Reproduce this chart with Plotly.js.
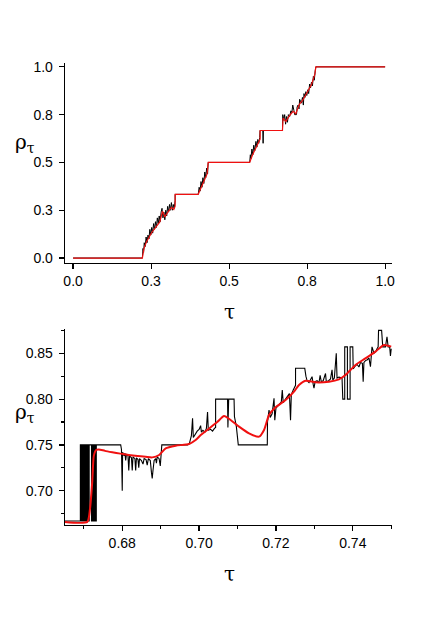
<!DOCTYPE html>
<html>
<head>
<meta charset="utf-8">
<script src="https://cdn.plot.ly/plotly-3.0.1.min.js"></script>
<style>
  html, body { margin: 0; padding: 0; background: #fff; }
  #chart { width: 437px; height: 625px; }
</style>
</head>
<body>
<div id="chart"></div>
<script>
// Two panels: full staircase rho(tau) on top, zoom of 0.665-0.75 below.
// Black = raw curve, red = smoothed curve.

// ---- top panel ----
const topRedTau = [0, 0.222, 0.227, 0.235, 0.251, 0.267, 0.278, 0.2865, 0.294, 0.3045, 0.3154, 0.3228, 0.327, 0.327,
  0.401, 0.4115, 0.422, 0.4295, 0.433, 0.566, 0.575, 0.5856, 0.596, 0.5994, 0.5994, 0.671, 0.673, 0.6817, 0.692,
  0.705, 0.7138, 0.7244, 0.737, 0.75, 0.764, 0.7747, 0.778, 1.0];
const topRedRho = [0, 0, 0.049, 0.084, 0.131, 0.163, 0.189, 0.245, 0.215, 0.242, 0.265, 0.254, 0.271, 0.333,
  0.333, 0.373, 0.417, 0.44, 0.5, 0.5, 0.539, 0.574, 0.609, 0.622, 0.667, 0.667, 0.732, 0.714, 0.741,
  0.767, 0.755, 0.802, 0.828, 0.863, 0.907, 0.96, 1.0, 1.0];

const topBlackTau = [0, 0.222, 0.224, 0.226, 0.228, 0.231, 0.234, 0.237, 0.240, 0.243, 0.246, 0.249, 0.252, 0.255,
  0.258, 0.261, 0.264, 0.267, 0.270, 0.273, 0.276, 0.279, 0.282, 0.285, 0.288, 0.291, 0.294, 0.297, 0.300, 0.303,
  0.306, 0.309, 0.312, 0.315, 0.318, 0.321, 0.324, 0.327, 0.327, 0.401, 0.404, 0.407, 0.410, 0.413, 0.416, 0.419,
  0.422, 0.425, 0.428, 0.431, 0.433, 0.566, 0.568, 0.570, 0.573, 0.576, 0.579, 0.582, 0.586, 0.589, 0.592, 0.595,
  0.598, 0.599, 0.608, 0.609, 0.610, 0.671, 0.672, 0.675, 0.678, 0.681, 0.684, 0.687, 0.690, 0.694, 0.698, 0.701,
  0.704, 0.708, 0.710, 0.716, 0.718, 0.721, 0.724, 0.726, 0.729, 0.732, 0.735, 0.738, 0.740, 0.743, 0.746, 0.749,
  0.752, 0.755, 0.758, 0.761, 0.764, 0.767, 0.770, 0.773, 0.776, 0.778, 1.0];
const topBlackRho = [0, 0, 0.05, 0.03, 0.08, 0.06, 0.11, 0.08, 0.12, 0.10, 0.15, 0.12, 0.16, 0.13,
  0.18, 0.15, 0.19, 0.16, 0.21, 0.18, 0.22, 0.19, 0.24, 0.26, 0.21, 0.24, 0.20, 0.25, 0.22, 0.27,
  0.24, 0.28, 0.25, 0.29, 0.25, 0.28, 0.26, 0.30, 0.333, 0.333, 0.37, 0.35, 0.40, 0.37, 0.42, 0.39,
  0.45, 0.42, 0.47, 0.44, 0.5, 0.5, 0.54, 0.52, 0.57, 0.54, 0.59, 0.56, 0.61, 0.58, 0.62, 0.60,
  0.63, 0.667, 0.667, 0.60, 0.667, 0.667, 0.75, 0.72, 0.75, 0.70, 0.74, 0.71, 0.75, 0.74, 0.77, 0.76,
  0.80, 0.77, 0.75, 0.75, 0.79, 0.80, 0.78, 0.83, 0.82, 0.81, 0.84, 0.80, 0.86, 0.84, 0.87, 0.85,
  0.88, 0.86, 0.91, 0.89, 0.92, 0.90, 0.95, 0.93, 0.98, 1.0, 1.0];

const topTickVals = [0, 0.25, 0.5, 0.75, 1.0];
const topTickText = ['0.0', '0.3', '0.5', '0.8', '1.0'];

// ---- bottom (zoomed) panel ----
const zoomRedTau = [0.665, 0.6709, 0.6716, 0.6722, 0.6726, 0.6732, 0.6739, 0.6755, 0.6774, 0.6795, 0.6817, 0.684,
  0.6861, 0.6878, 0.6896, 0.6913, 0.6939, 0.6974, 0.6991, 0.7005, 0.7026, 0.7048, 0.7065, 0.7082, 0.7104, 0.713,
  0.7156, 0.7169, 0.7182, 0.7199, 0.7225, 0.7247, 0.726, 0.7277, 0.7303, 0.7338, 0.7364, 0.7381, 0.7407, 0.7433,
  0.7459, 0.7481, 0.75];
const zoomRedRho = [0.666, 0.666, 0.68, 0.71, 0.738, 0.7445, 0.7451, 0.7435, 0.742, 0.7405, 0.739, 0.7378,
  0.737, 0.7364, 0.739, 0.7462, 0.7491, 0.751, 0.7553, 0.761, 0.768, 0.7753, 0.7815, 0.7772, 0.7699, 0.7626,
  0.759, 0.7663, 0.7826, 0.791, 0.799, 0.8081, 0.8154, 0.8201, 0.8183, 0.819, 0.8216, 0.8263, 0.8373, 0.8445,
  0.8518, 0.8591, 0.8573];

const zoomBlackTau = [0.665, 0.6691,
  0.6691, 0.66935, 0.66935, 0.6696, 0.6696, 0.66985, 0.66985, 0.6701, 0.6701, 0.67035, 0.67035, 0.6706, 0.6706,
  0.67085, 0.67085, 0.6711, 0.6711, 0.67135, 0.67135, 0.6714, 0.6714,
  0.672, 0.672, 0.67225, 0.67225, 0.6725, 0.6725, 0.67275, 0.67275, 0.673, 0.673, 0.67325, 0.67325,
  0.6796, 0.6798, 0.68, 0.6801, 0.6805, 0.6807, 0.6809, 0.6811, 0.6815, 0.6817, 0.6819, 0.6824, 0.6826, 0.6828,
  0.6833, 0.6835, 0.6837, 0.6841, 0.6843, 0.6845, 0.685, 0.6854, 0.6857, 0.6862, 0.6865, 0.6868, 0.6873, 0.6876,
  0.6878, 0.688, 0.6883, 0.6887, 0.6889, 0.6891, 0.6896, 0.6899, 0.6901, 0.6903, 0.697,
  0.6975, 0.698, 0.6983, 0.6985, 0.699, 0.6995, 0.7, 0.7004, 0.7006, 0.701, 0.7015, 0.7019, 0.7022, 0.7024,
  0.703, 0.7035, 0.704, 0.7043, 0.7043, 0.7074, 0.7075, 0.7077, 0.7091, 0.7092, 0.7097, 0.7102, 0.71775,
  0.7178, 0.7182, 0.7185, 0.719, 0.7195, 0.7197, 0.72, 0.7204, 0.721, 0.7214, 0.72165, 0.7219, 0.7225, 0.723,
  0.7235, 0.7238, 0.724, 0.7245, 0.7251, 0.7251, 0.7275, 0.7278, 0.7281, 0.7286, 0.729, 0.7294, 0.7297, 0.7299,
  0.7302, 0.7307, 0.7312, 0.7315, 0.7318, 0.7323, 0.7329, 0.7331, 0.7337, 0.7342, 0.7346, 0.7348, 0.7352,
  0.7357, 0.7359, 0.7364, 0.7372, 0.7374, 0.7379, 0.7379, 0.7386, 0.7386, 0.7393, 0.7393, 0.74, 0.7401,
  0.7406, 0.7411, 0.7416, 0.742, 0.7425, 0.7427, 0.7429, 0.7433, 0.7438, 0.7442, 0.7446, 0.7448, 0.745,
  0.7455, 0.746, 0.7463, 0.7466, 0.7467, 0.7475, 0.7478, 0.7485, 0.7489, 0.7492, 0.7496, 0.7498, 0.75];
const zoomBlackRho = [0.667, 0.667,
  0.75, 0.75, 0.667, 0.667, 0.75, 0.75, 0.667, 0.667, 0.75, 0.75, 0.667, 0.667, 0.75,
  0.75, 0.667, 0.667, 0.75, 0.75, 0.667, 0.667, 0.75,
  0.75, 0.667, 0.667, 0.75, 0.75, 0.667, 0.667, 0.75, 0.75, 0.667, 0.667, 0.75,
  0.75, 0.745, 0.70, 0.742, 0.738, 0.741, 0.733, 0.74, 0.738, 0.722, 0.738, 0.736, 0.722, 0.737,
  0.735, 0.722, 0.736, 0.734, 0.725, 0.735, 0.733, 0.729, 0.735, 0.734, 0.728, 0.735, 0.733, 0.72,
  0.7135, 0.722, 0.733, 0.735, 0.73, 0.737, 0.735, 0.727, 0.74, 0.75, 0.75,
  0.752, 0.76, 0.779, 0.758, 0.762, 0.765, 0.767, 0.771, 0.764, 0.766, 0.764, 0.768, 0.786, 0.766,
  0.767, 0.765, 0.768, 0.769, 0.80, 0.80, 0.769, 0.80, 0.80, 0.781, 0.77, 0.75, 0.75,
  0.775, 0.788, 0.78, 0.784, 0.8009, 0.777, 0.79, 0.792, 0.795, 0.797, 0.81, 0.796, 0.8, 0.803,
  0.806, 0.777, 0.805, 0.81, 0.815, 0.8336, 0.8336, 0.825, 0.82, 0.818, 0.822, 0.8245, 0.816, 0.812,
  0.819, 0.82, 0.818, 0.826, 0.819, 0.82, 0.828, 0.819, 0.82, 0.822, 0.832, 0.821, 0.823,
  0.85, 0.823, 0.824, 0.823, 0.80, 0.80, 0.857, 0.857, 0.80, 0.80, 0.857, 0.857, 0.833,
  0.836, 0.838, 0.835, 0.84, 0.839, 0.819, 0.84, 0.842, 0.843, 0.845, 0.8354, 0.846, 0.857,
  0.85, 0.852, 0.855, 0.857, 0.875, 0.875, 0.857, 0.857, 0.868, 0.857, 0.857, 0.847, 0.855];

const tickFont = { family: 'Liberation Sans, Arial, sans-serif', size: 14, color: '#000' };
const axisBase = {
  showline: true, linecolor: '#000', linewidth: 1.3, mirror: false,
  ticks: 'outside', ticklen: 5, tickwidth: 1.2, tickcolor: '#000',
  showgrid: false, zeroline: false, fixedrange: true, tickfont: tickFont
};

const data = [
  { x: topBlackTau, y: topBlackRho, xaxis: 'x', yaxis: 'y', mode: 'lines',
    line: { color: '#000', width: 1 }, hoverinfo: 'skip' },
  { x: topRedTau, y: topRedRho, xaxis: 'x', yaxis: 'y', mode: 'lines',
    line: { color: '#f01010', width: 1.2 }, hoverinfo: 'skip' },
  { x: zoomBlackTau, y: zoomBlackRho, xaxis: 'x2', yaxis: 'y2', mode: 'lines',
    line: { color: '#000', width: 1.1 }, hoverinfo: 'skip' },
  { x: zoomRedTau, y: zoomRedRho, xaxis: 'x2', yaxis: 'y2', mode: 'lines',
    line: { color: '#f01010', width: 2, shape: 'spline', smoothing: 0.6 }, hoverinfo: 'skip' }
];

const titleFont = { family: 'DejaVu Serif, Liberation Serif, serif', size: 20, color: '#000' };
const layout = {
  width: 437, height: 625, showlegend: false,
  margin: { l: 0, r: 0, t: 0, b: 0 },
  paper_bgcolor: '#fff', plot_bgcolor: '#fff',
  xaxis: Object.assign({}, axisBase, {
    domain: [0.1487, 0.897], anchor: 'y', range: [-0.026, 1.022],
    tickmode: 'array', tickvals: topTickVals, ticktext: topTickText
  }),
  yaxis: Object.assign({}, axisBase, {
    domain: [0.5792, 0.8992], anchor: 'x', range: [-0.026, 1.02],
    tickmode: 'array', tickvals: topTickVals, ticktext: topTickText, ticklabelstandoff: 3
  }),
  xaxis2: Object.assign({}, axisBase, {
    domain: [0.1487, 0.897], anchor: 'y2', range: [0.6651, 0.7502],
    tick0: 0.68, dtick: 0.02, tickformat: '.2f',
    minor: { tick0: 0.67, dtick: 0.01, ticks: 'outside', ticklen: 3, tickcolor: '#000' }
  }),
  yaxis2: Object.assign({}, axisBase, {
    domain: [0.16, 0.4736], anchor: 'x2', range: [0.6626, 0.8765],
    tick0: 0.70, dtick: 0.05, tickformat: '.2f', ticklabelstandoff: 3,
    minor: { tick0: 0.675, dtick: 0.025, ticks: 'outside', ticklen: 3, tickcolor: '#000' }
  }),
  annotations: [
    { text: 'τ', xref: 'paper', yref: 'paper', x: 229 / 437, y: 1 - 312 / 625,
      xanchor: 'center', yanchor: 'middle', showarrow: false, font: titleFont },
    { text: 'τ', xref: 'paper', yref: 'paper', x: 229 / 437, y: 1 - 574 / 625,
      xanchor: 'center', yanchor: 'middle', showarrow: false, font: titleFont },
    { text: 'ρ<sub>τ</sub>', xref: 'paper', yref: 'paper', x: 25 / 437, y: 1 - 143 / 625,
      xanchor: 'center', yanchor: 'middle', showarrow: false, font: titleFont },
    { text: 'ρ<sub>τ</sub>', xref: 'paper', yref: 'paper', x: 25 / 437, y: 1 - 413 / 625,
      xanchor: 'center', yanchor: 'middle', showarrow: false, font: titleFont }
  ]
};

Plotly.newPlot('chart', data, layout, { displayModeBar: false, staticPlot: true });
</script>
</body>
</html>
